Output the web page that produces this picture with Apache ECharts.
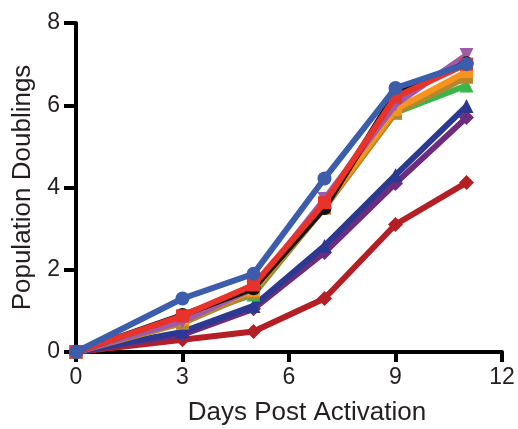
<!DOCTYPE html>
<html><head><meta charset="utf-8">
<script src="https://cdn.jsdelivr.net/npm/echarts@6/dist/echarts.min.js"></script>
<style>html,body{margin:0;padding:0;background:#fff}#c{width:518px;height:429px}</style>
</head><body><div id="c"></div>
<script>
const days = [0, 3, 5, 7, 9, 11];
const xTicks = [0, 3, 6, 9, 12];
const yTicks = [0, 2, 4, 6, 8];
const darkRed    = [0, 0.30, 0.50, 1.30, 3.10, 4.12];
const darkPurple = [0, 0.42, 1.05, 2.42, 4.10, 5.70];
const navy       = [0, 0.49, 1.12, 2.58, 4.30, 5.98];
const green      = [0, 0.80, 1.40, 3.52, 5.82, 6.48];
const tan        = [0, 0.70, 1.45, 3.50, 5.82, 6.68];
const orange     = [0, 0.80, 1.50, 3.55, 5.90, 6.82];
const lightPurple= [0, 0.75, 1.55, 3.72, 6.02, 7.22];
const black      = [0, 0.90, 1.55, 3.50, 6.30, 7.02];
const red        = [0, 0.88, 1.63, 3.63, 6.20, 7.00];
const blue       = [0, 1.30, 1.90, 4.22, 6.42, 7.00];

const seriesDefs = [
  {name:'darkRed', data: darkRed, color:'#b31f24', symbol:'diamond', rot:0},
  {name:'darkPurple', data: darkPurple, color:'#6d2c7d', symbol:'diamond', rot:0},
  {name:'navy', data: navy, color:'#2b3990', symbol:'triangle', rot:0},
  {name:'green', data: green, color:'#3ab54a', symbol:'triangle', rot:0},
  {name:'tan', data: tan, color:'#b5862e', symbol:'rect', rot:0},
  {name:'orange', data: orange, color:'#f7941d', symbol:'rect', rot:0},
  {name:'lightPurple', data: lightPurple, color:'#9d5ba8', symbol:'triangle', rot:180},
  {name:'black', data: black, color:'#111111', symbol:'circle', rot:0},
  {name:'red', data: red, color:'#e8332a', symbol:'rect', rot:0},
  {name:'blue', data: blue, color:'#3c5dab', symbol:'circle', rot:0}
];

const chart = echarts.init(document.getElementById('c'), null, {renderer:'canvas'});
const font = "'Liberation Sans', Arial, sans-serif";
chart.setOption({
  animation:false,
  backgroundColor:'#fff',
  grid:{left:76, right:16, top:23, bottom:77, containLabel:false, outerBoundsMode:'none'},
  xAxis:{
    type:'value', min:xTicks[0], max:xTicks[xTicks.length-1], interval:3,
    name:'Days Post Activation', nameLocation:'middle', nameGap:48,
    nameTextStyle:{fontFamily:font, fontSize:26, color:'#231f20', padding:[0,0,0,36]},
    axisLine:{lineStyle:{color:'#000', width:4}},
    axisTick:{length:10, lineStyle:{color:'#000', width:4}},
    axisLabel:{fontFamily:font, fontSize:23, color:'#231f20', margin:14},
    splitLine:{show:false}
  },
  yAxis:{
    type:'value', min:yTicks[0], max:yTicks[yTicks.length-1], interval:2,
    name:'Population Doublings', nameLocation:'middle', nameGap:38,
    nameTextStyle:{fontFamily:font, fontSize:26, color:'#231f20'},
    axisLine:{show:true, lineStyle:{color:'#000', width:4}},
    axisTick:{show:true, length:12, lineStyle:{color:'#000', width:4}},
    axisLabel:{fontFamily:font, fontSize:23, color:'#231f20', margin:16},
    splitLine:{show:false}
  },
  series: seriesDefs.map((s,i)=>({
    type:'line', name:s.name,
    data: days.map((d,j)=>[d, s.data[j]]),
    symbol:s.symbol, symbolSize:s.symbol==='rect'?13:(s.symbol==='diamond'?15:14),
    symbolRotate:s.rot,
    showAllSymbol:true,
    lineStyle:{color:s.color, width:6},
    itemStyle:{color:s.color},
    z: 2+i
  }))
});
</script></body></html>
